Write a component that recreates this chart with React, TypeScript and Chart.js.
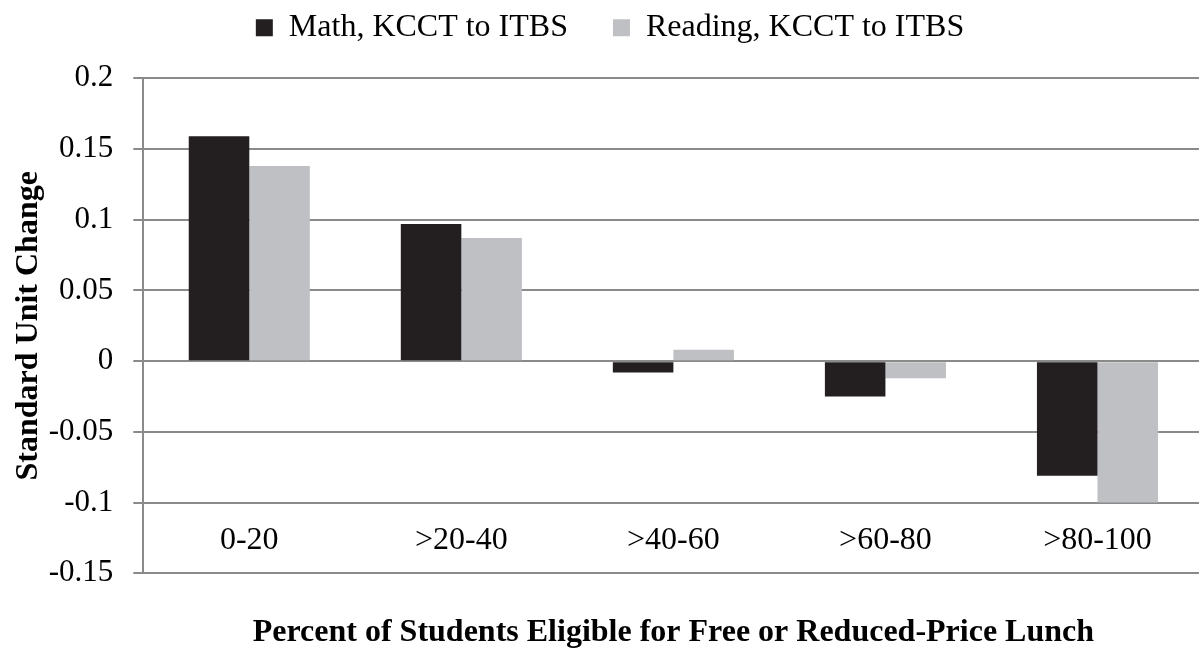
import React, { useEffect, useRef } from "react";
import { Chart, registerables } from "chart.js";

Chart.register(...registerables);

// ---- data ----
const categories = ["0-20", ">20-40", ">40-60", ">60-80", ">80-100"];
const seriesNames = ["Math, KCCT to ITBS", "Reading, KCCT to ITBS"];
const mathValues = [0.159, 0.097, -0.008, -0.025, -0.081];
const readingValues = [0.138, 0.087, 0.008, -0.012, -0.1];
const yTicks = [-0.15, -0.1, -0.05, 0, 0.05, 0.1, 0.15, 0.2];
const xTitle = "Percent of Students Eligible for Free or Reduced-Price Lunch";
const yTitle = "Standard Unit Change";

const FAMILY = "'Liberation Serif', 'Times New Roman', Times, serif";
const TEXT = "#000000";
const GRID = "#8a8a8a";

const legendHeightPlugin = {
  id: "legendHeight",
  beforeInit(chart: any) {
    const legend = chart.legend;
    if (!legend) return;
    const origFit = legend.fit;
    legend.fit = function () {
      origFit.call(this);
      this.height = 111.5;
    };
  },
};

export default function App() {
  const ref = useRef<HTMLCanvasElement | null>(null);

  useEffect(() => {
    if (!ref.current) return;
    const chart = new Chart(ref.current, {
      type: "bar",
      data: {
        labels: categories,
        datasets: [
          {
            label: seriesNames[0],
            data: mathValues,
            backgroundColor: "#231f20",
            borderWidth: 0,
            categoryPercentage: 0.571,
            barPercentage: 1,
            xAxisID: "x",
            yAxisID: "y",
          },
          {
            label: seriesNames[1],
            data: readingValues,
            backgroundColor: "#bfc0c3",
            borderWidth: 0,
            categoryPercentage: 0.571,
            barPercentage: 1,
            xAxisID: "x",
            yAxisID: "y",
          },
        ],
      },
      options: {
        animation: false,
        responsive: true,
        maintainAspectRatio: false,
        events: [],
        layout: { padding: { top: -33.2, left: 16.5, right: 16.5, bottom: 0 } },
        plugins: {
          tooltip: { enabled: false },
          legend: {
            display: true,
            position: "top",
            labels: {
              font: { family: FAMILY, size: 32 },
              color: TEXT,
              boxWidth: 17,
              boxHeight: 17,
              padding: 45,
            },
          },
        },
        scales: {
          y: {
            type: "linear",
            position: "left",
            min: -0.15,
            max: 0.2,
            afterBuildTicks: (s: any) => {
              s.ticks = yTicks.map((v) => ({ value: v }));
            },
            ticks: {
              font: { family: FAMILY, size: 31 },
              color: TEXT,
              padding: 20,
              callback: (v: any) => String(Math.round(Number(v) * 100) / 100),
            },
            grid: { color: GRID, lineWidth: 2, tickLength: 10, drawTicks: true },
            border: { display: true, color: GRID, width: 2 },
            title: {
              display: true,
              text: yTitle,
              color: TEXT,
              font: { family: FAMILY, size: 32, weight: "bold" },
              padding: { top: -6.5, bottom: -19.7 },
            },
          },
          x: {
            type: "category",
            position: { y: -0.1 } as any,
            offset: true,
            grid: { display: false, drawTicks: false },
            border: { display: false },
            ticks: {
              font: { family: FAMILY, size: 32 },
              color: TEXT,
              padding: 19,
              autoSkip: false,
              maxRotation: 0,
            },
          },
          x2: {
            type: "category",
            axis: "x",
            position: "bottom",
            labels: categories,
            offset: true,
            grid: { display: false, drawTicks: false },
            border: { display: false },
            ticks: { display: false },
            title: {
              display: true,
              text: xTitle,
              color: TEXT,
              font: { family: FAMILY, size: 32, weight: "bold" },
              padding: { top: 40.7, bottom: 1.6 },
            },
          },
        } as any,
      },
      plugins: [legendHeightPlugin],
    });
    return () => chart.destroy();
  }, []);

  return (
    <div
      style={{
        position: "fixed",
        left: 0,
        top: 0,
        width: 1199,
        height: 654,
        overflow: "hidden",
        background: "#ffffff",
      }}
    >
      <div style={{ position: "relative", width: 1220, height: 654 }}>
        <canvas ref={ref} />
      </div>
    </div>
  );
}
